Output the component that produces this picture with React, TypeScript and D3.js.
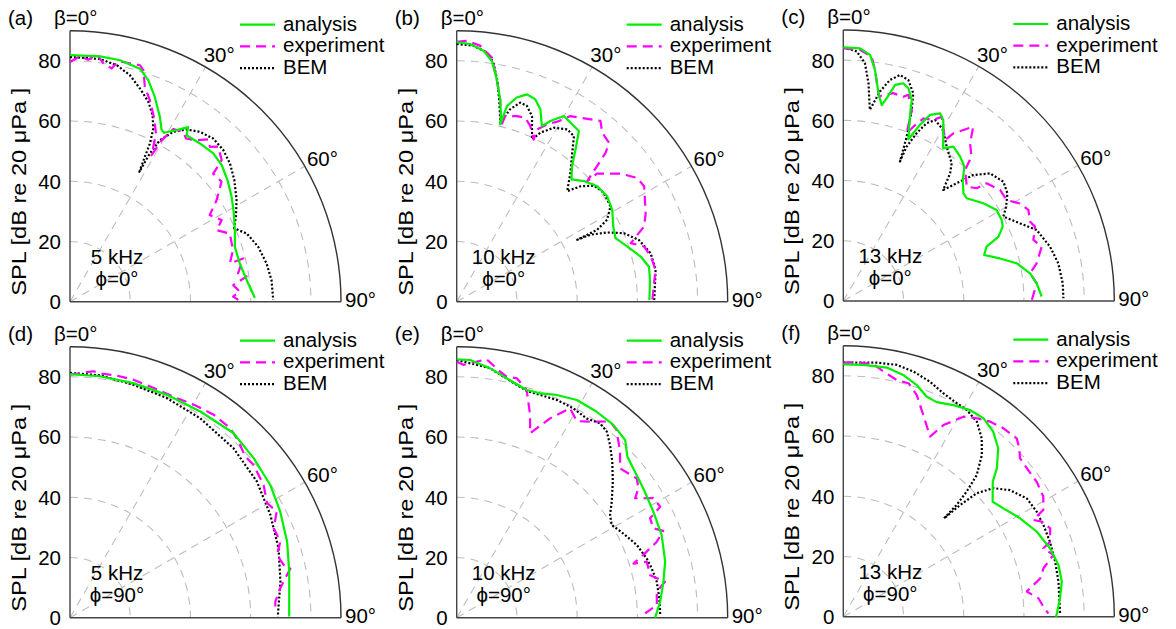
import { useRef, useEffect } from "react";
import * as d3 from "d3";

// each point is [beta in degrees, SPL in dB]
const analysisA = [[0,81.9],[7,82.1],[11.7,81.9],[16.7,80.8],[19.5,78],[22.5,73.6],[25.9,68.3],[28.1,64.6],[29.1,64.2],[31.9,67.1],[34.1,70],[35,67.5],[39.4,68],[44,68.5],[48,67.8],[52.3,66.1],[57,64],[61.7,61.8],[66.5,59.7],[71.6,57.7],[77.3,57.8],[83,59.1],[88.8,61.4]];
const experimentA = [[0,79.6],[2.3,81.6],[4.3,80.6],[6.2,82.6],[8,79.9],[10.1,78.7],[11.4,81.5],[16.5,81.9],[17.6,80.6],[19.2,75.6],[21.6,72],[24.4,67.4],[27.1,62.7],[29.1,55.7],[29.6,61.7],[30.9,66.8],[33.7,67.8],[35.4,66.5],[38.1,68.1],[40.4,70.8],[42.1,69.3],[43.7,71.2],[47,68.9],[48.2,63.8],[51.6,64.2],[55.3,59.2],[58.2,54.6],[61.7,57.2],[64,54.2],[66.9,57.7],[72.4,56.8],[76.5,54.6],[76,59.3],[80.4,56.6],[81.9,59.2],[84.2,54.5],[86.6,56.5],[88.2,54.2],[89.4,55.9]];
const bemA = [[0,81.3],[7,81.2],[11.2,80.1],[14.8,77.8],[18.2,74.5],[21.4,71.3],[23.9,67.7],[25.7,63.8],[26.8,58.9],[27.3,54.2],[28.1,48.9],[28.3,55.9],[29.1,61.4],[31.3,66],[34.1,69.1],[37.4,71],[41.3,72.1],[45.3,71.6],[49.2,70.2],[53.5,67.9],[58.6,64.8],[62.9,61.9],[65.9,59.7],[68.9,62.9],[73.7,65.1],[79,66.5],[83.9,67.3],[89.5,67.5]];

const analysisB = [[0,86.1],[3,85.7],[6.1,83.8],[8.3,80.8],[10.2,75.1],[12.1,68.8],[13.3,63.9],[13.8,60.6],[14.4,67.1],[16.4,70.7],[18.7,72.7],[21.2,72.1],[23.5,69.7],[25.9,64.8],[27.4,67.6],[30,71.2],[35.6,69.7],[38,64.1],[40.4,59.1],[43.2,55.7],[46.5,58.2],[50.6,60.4],[55,61],[59.4,60],[64.3,57.7],[68.2,56.8],[72.1,59.6],[76.2,62.9],[79.7,64.9],[83.6,64.6],[89.5,64]];
const experimentB = [[0,86.3],[2.2,86.7],[5.2,85.4],[8.2,81.9],[10.2,75],[12.1,68.8],[14.2,60.2],[14.6,63.7],[18,64.8],[20.4,65.2],[22.7,63.3],[25.4,59.6],[25,63.1],[27,66.1],[29.5,68.9],[31.5,72.3],[33.9,73.6],[38.5,76.7],[40.7,74.1],[43.8,73.1],[45,69.9],[46,64.8],[47.3,59],[47.6,63.1],[52,69.1],[55.6,72.7],[58.4,73.1],[64.9,69.3],[68.1,67.1],[71.4,61],[73.6,64.9],[76.9,66.2],[80.9,66.9],[84.7,65.8],[89.5,65]];
const bemB = [[0,85.6],[3.7,85.2],[6.9,83.4],[8.7,80.4],[10.6,74],[12.1,67.6],[13.7,61.2],[15.5,66.3],[17.7,69.4],[19.7,69.1],[22.1,66.5],[24.9,59.4],[26.3,62.6],[29.2,66.2],[32.7,68],[35.3,67.4],[37.8,62.6],[41.4,57.1],[45,51.9],[47,56.2],[49.8,59.7],[53.5,60.8],[58.2,60.1],[61.4,56.9],[62.9,52.4],[62.8,45],[63.4,49.7],[65.3,55],[67.7,60],[71.3,63.9],[76,66.4],[80.9,66.9],[85.7,66],[89.5,65.6]];

const analysisC = [[0,84.2],[3.8,84.1],[6.2,82.2],[7.8,77.5],[9.6,70],[11.1,66.3],[12.1,68.9],[13.5,73.8],[15.4,75],[17,73.9],[18.8,70.5],[19.6,66.2],[21.9,57.9],[23.5,63.8],[25,68.2],[27.3,70.1],[28.9,68.7],[33.2,60.6],[35.5,63],[38.9,61.7],[42,60.1],[44.6,56.5],[48.1,53.6],[50.2,53.3],[55.1,56.7],[59.3,59.2],[62.9,59.1],[65,58.4],[67.5,55.8],[69.2,50.9],[71.9,49.2],[74.8,53.9],[77.7,58.9],[81.6,62.7],[84.8,64.5],[88.7,65.9]];
const experimentC = [[0,83.9],[3.8,83.6],[6.6,81.7],[7.8,77.5],[9.9,68.9],[11,69.7],[13.5,71],[16.4,70.7],[17.5,71.8],[19.7,67.4],[20.7,59.5],[21.9,62.4],[23.7,66.2],[26.4,67.1],[28.1,69.4],[32.3,63.2],[33.3,66.6],[35.1,69.4],[36.7,72.2],[38.8,67.2],[41.6,64.1],[42.9,59.4],[47.2,55.9],[49.8,58],[50.6,61.6],[54.7,63.8],[58.3,63.8],[61.1,67],[63.8,68.5],[67,67.4],[68.8,68.3],[72.2,66.3],[74.7,68.3],[79,65.4],[81.6,62.7],[84.8,64.5],[89.7,62.6]];
const bemC = [[0,84.2],[3.1,83],[5.2,79.3],[6.6,72.8],[7.9,64.1],[9.9,70.6],[11.9,75],[14.1,77.4],[16.4,76.5],[18.6,72.8],[19.7,67.4],[21.1,58.5],[22.1,50],[22.3,55.4],[23.6,60.8],[25.1,65.2],[26.9,67.4],[30.3,65.8],[33.8,61.7],[38.2,58.2],[39.9,55.3],[42,49.6],[43.9,54.3],[45.9,60.1],[49,64.6],[53.3,66.3],[56.7,65.2],[59.9,62.5],[62.2,60.1],[66.3,64.1],[69.8,68.4],[75.3,71],[80.1,72.5],[85.4,73.1],[89.3,73.1]];

const analysisD = [[0,80.9],[7.1,80.8],[15.1,80.7],[23.5,80.7],[32.3,81],[41.5,81.9],[49,80.8],[56.4,79.8],[63.2,78.2],[70.7,76.4],[78.1,74.4],[89.7,72.8]];
const experimentD = [[0,80.7],[5.4,82.2],[7.8,81.7],[10.5,81.9],[14.9,81.8],[20,81.2],[25.9,81.1],[30.1,81.8],[35.3,82.6],[40.2,82.4],[43.7,81],[47.4,79.1],[50.2,79.3],[55.5,78],[59.8,75.7],[62.8,77.2],[66.3,73.9],[70.1,74.3],[73.1,71.8],[76.1,73.1],[77.4,75],[82,70.5],[85.5,68.4],[88.3,68.2]];
const bemD = [[0,81.3],[7.1,81.1],[15.2,80.2],[23.8,79.7],[33.1,79.1],[44,78.2],[53.9,76.8],[62.8,74.8],[71.6,73],[80.3,70.9],[89.7,69]];

const analysisE = [[0,85.8],[3,85.7],[7.6,83.6],[11.8,81.2],[17.1,79.1],[20.4,79.5],[24.2,81.1],[28.9,82.6],[34.2,82.7],[39.1,82.5],[43.5,81.3],[46.7,77.9],[49.8,76.8],[55.3,75.4],[61.7,74.2],[68,73.4],[74.9,71.7],[80.1,69.7],[85.5,67.8],[90,65.9]];
const experimentE = [[0,85],[1.5,84],[6.6,86.4],[10,83],[11.7,81.8],[14.1,82],[17.1,79.1],[19.9,71.6],[21.7,65.9],[25.1,73.1],[28.4,79.1],[31.4,76.5],[34.2,78.7],[38,82.7],[40.4,81.9],[44.5,77.4],[47.6,73.5],[52.3,75.6],[54.5,74.1],[56.2,71.3],[58.7,76.4],[61.4,77],[62.8,72.2],[65.6,71.8],[67.2,74.4],[69.2,71.1],[71.4,65.4],[73,61.4],[73.6,65.8],[77.6,65.8],[80.2,70.2],[82.6,67],[86.4,66.6],[88.7,62.6]];
const bemE = [[0,85.6],[7.6,83.6],[12,81],[17.2,78.8],[20.5,79],[24.7,79.6],[29.1,79.6],[33.1,79],[36.4,80.2],[38.9,79.4],[41.6,76.7],[44.9,73.2],[48.9,68.8],[53.2,64.3],[56.2,61.3],[59.1,60],[63.2,62],[68,64.5],[72.7,66.1],[75.8,66.8],[79.8,67.5],[84.6,67.6],[89.2,67.6]];

const analysisF = [[0,83.8],[4.5,83.9],[9.9,84],[13.9,82.7],[17.6,80.7],[20.7,78.2],[23.5,77.7],[27.5,79.2],[31.5,80.5],[35.2,80.7],[39,79.1],[42.6,76],[46,70.9],[47.9,66.9],[52.4,62.6],[55.9,64.2],[60.9,67.2],[66.3,70.2],[71.7,72.3],[76.5,73.5],[80.9,73.5],[85.2,72.2],[90,70.7]];
const experimentF = [[0,84.4],[3,84.6],[6.8,84.5],[9.3,82.5],[12.7,80.6],[15.6,80.5],[18.3,77.6],[21.6,72.1],[25.7,66.4],[27.6,71.8],[31,77.5],[33.9,79.4],[37,81.1],[40.3,82.1],[44.2,82.6],[46.3,80.9],[48.1,78.8],[51,78.4],[55.1,78.3],[59,77.5],[61.9,75.3],[63,70.8],[64.4,73.1],[66.9,74.7],[70.1,73],[71.1,70.2],[73.6,72.7],[76.4,68.4],[79,66.6],[82.2,61.5],[84.6,65.1],[87.1,66.5],[89.1,68.1]];
const bemF = [[0,84.4],[7.5,85.1],[12,85.5],[15.9,84.7],[20.2,83.2],[24.1,81.3],[28,80.3],[30.8,80],[34.4,78.5],[37.8,75],[40.6,70.7],[43.3,64.6],[44.6,58.3],[45.4,52.9],[45.7,46.7],[46.3,53.6],[47.2,60.3],[49.4,65.6],[52.8,69.5],[57.2,72.5],[61.5,73.1],[65.4,73.1],[70.1,73],[75.4,72.7],[80.8,72.4],[85.1,72],[89.1,72]];

const splTicks = [0, 20, 40, 60, 80];
const rings = [20, 40, 60, 80];
const spokes = [30, 60];
const legendNames = ["analysis", "experiment", "BEM"];

const panels = [
  { tag: "(a)", freq: "5 kHz", phi: "ϕ=0°", cx: 70, cy: 301.7, data: [analysisA, experimentA, bemA] },
  { tag: "(b)", freq: "10 kHz", phi: "ϕ=0°", cx: 456.7, cy: 301.7, data: [analysisB, experimentB, bemB] },
  { tag: "(c)", freq: "13 kHz", phi: "ϕ=0°", cx: 843.3, cy: 301, data: [analysisC, experimentC, bemC] },
  { tag: "(d)", freq: "5 kHz", phi: "ϕ=90°", cx: 70, cy: 617.7, data: [analysisD, experimentD, bemD] },
  { tag: "(e)", freq: "10 kHz", phi: "ϕ=90°", cx: 456.7, cy: 617.7, data: [analysisE, experimentE, bemE] },
  { tag: "(f)", freq: "13 kHz", phi: "ϕ=90°", cx: 843.3, cy: 616.7, data: [analysisF, experimentF, bemF] },
];

const styles = [
  { color: "#00f000", dash: null },
  { color: "#ff00ff", dash: "10,6" },
  { color: "#000", dash: "2,2" },
];

const font = "'Liberation Sans', Arial, Helvetica, sans-serif";

export default function App() {
  const svgRef = useRef(null);

  useEffect(() => {
    const svg = d3.select(svgRef.current);
    svg.selectAll("*").remove();

    const R = 271;
    const rScale = d3.scaleLinear().domain([0, 90]).range([0, R]);
    const rad = (deg) => (deg * Math.PI) / 180;
    const polar = (deg, r) => [r * Math.sin(rad(deg)), -r * Math.cos(rad(deg))];

    const line = d3
      .lineRadial()
      .angle((d) => rad(d[0]))
      .radius((d) => rScale(d[1]));

    panels.forEach((p) => {
      const g = svg.append("g").attr("transform", `translate(${p.cx},${p.cy})`);

      // grid rings
      rings.forEach((v) => {
        const path = d3.path();
        path.arc(0, 0, rScale(v), -Math.PI / 2, 0);
        g.append("path")
          .attr("d", path.toString())
          .attr("fill", "none")
          .attr("stroke", "#bdbdbd")
          .attr("stroke-width", 1.1)
          .attr("stroke-dasharray", "8,6");
      });
      // grid spokes
      spokes.forEach((a) => {
        const [x, y] = polar(a, R);
        g.append("line")
          .attr("x1", 0).attr("y1", 0)
          .attr("x2", x).attr("y2", y)
          .attr("stroke", "#bdbdbd")
          .attr("stroke-width", 1.1)
          .attr("stroke-dasharray", "8,6");
      });

      // frame
      const outer = d3.path();
      outer.arc(0, 0, R, -Math.PI / 2, 0);
      g.append("path").attr("d", outer.toString()).attr("fill", "none").attr("stroke", "#333").attr("stroke-width", 1.4);
      g.append("line").attr("x1", 0).attr("y1", 0).attr("x2", 0).attr("y2", -R).attr("stroke", "#444").attr("stroke-width", 1.4);
      g.append("line").attr("x1", 0).attr("y1", 0).attr("x2", R).attr("y2", 0).attr("stroke", "#444").attr("stroke-width", 1.4);

      // SPL tick labels
      splTicks.forEach((v) => {
        g.append("text")
          .attr("x", -9)
          .attr("y", -rScale(v))
          .attr("dy", "0.36em")
          .attr("text-anchor", "end")
          .attr("font-size", 20.5)
          .attr("font-family", font)
          .text(v);
      });

      // angle labels and notes
      const textAt = (x, y, s, anchor = "start") =>
        g.append("text")
          .attr("x", x)
          .attr("y", y)
          .attr("text-anchor", anchor)
          .attr("font-size", 20.5)
          .attr("font-family", font)
          .text(s);
      textAt(-16, -277, "β=0°");
      const [x30, y30] = polar(31.2, 288);
      textAt(x30, y30 + 7, "30°", "middle");
      const [x60, y60] = polar(60.5, 290);
      textAt(x60, y60 + 7, "60°", "middle");
      textAt(275, 5, "90°");
      textAt(-62, -277, p.tag);
      textAt(47, -38, p.freq, "middle");
      textAt(47, -16, p.phi, "middle");

      g.append("text")
        .attr("transform", `translate(-51,${-110}) rotate(-90)`)
        .attr("text-anchor", "middle")
        .attr("dy", "0.36em")
        .attr("font-size", 19.5)
        .attr("font-family", font)
        .attr("textLength", 208)
        .attr("lengthAdjust", "spacingAndGlyphs")
        .text("SPL [dB re 20 μPa ]");

      // curves: BEM first, then experiment, then analysis on top
      [2, 1, 0].forEach((i) => {
        g.append("path")
          .attr("d", line(p.data[i]))
          .attr("fill", "none")
          .attr("stroke", styles[i].color)
          .attr("stroke-width", 2.2)
          .attr("stroke-dasharray", styles[i].dash)
          .attr("stroke-linejoin", "round");
      });

      // legend
      legendNames.forEach((name, i) => {
        const y = -271 + i * 21.7;
        g.append("line")
          .attr("x1", 170).attr("x2", 205)
          .attr("y1", y - 6).attr("y2", y - 6)
          .attr("stroke", styles[i].color)
          .attr("stroke-width", 2.2)
          .attr("stroke-dasharray", styles[i].dash);
        textAt(213, y, name);
      });
    });
  }, []);

  return (
    <svg
      ref={svgRef}
      width={1176}
      height={629}
      style={{ position: "absolute", left: 0, top: 0, background: "#fff" }}
    ></svg>
  );
}
